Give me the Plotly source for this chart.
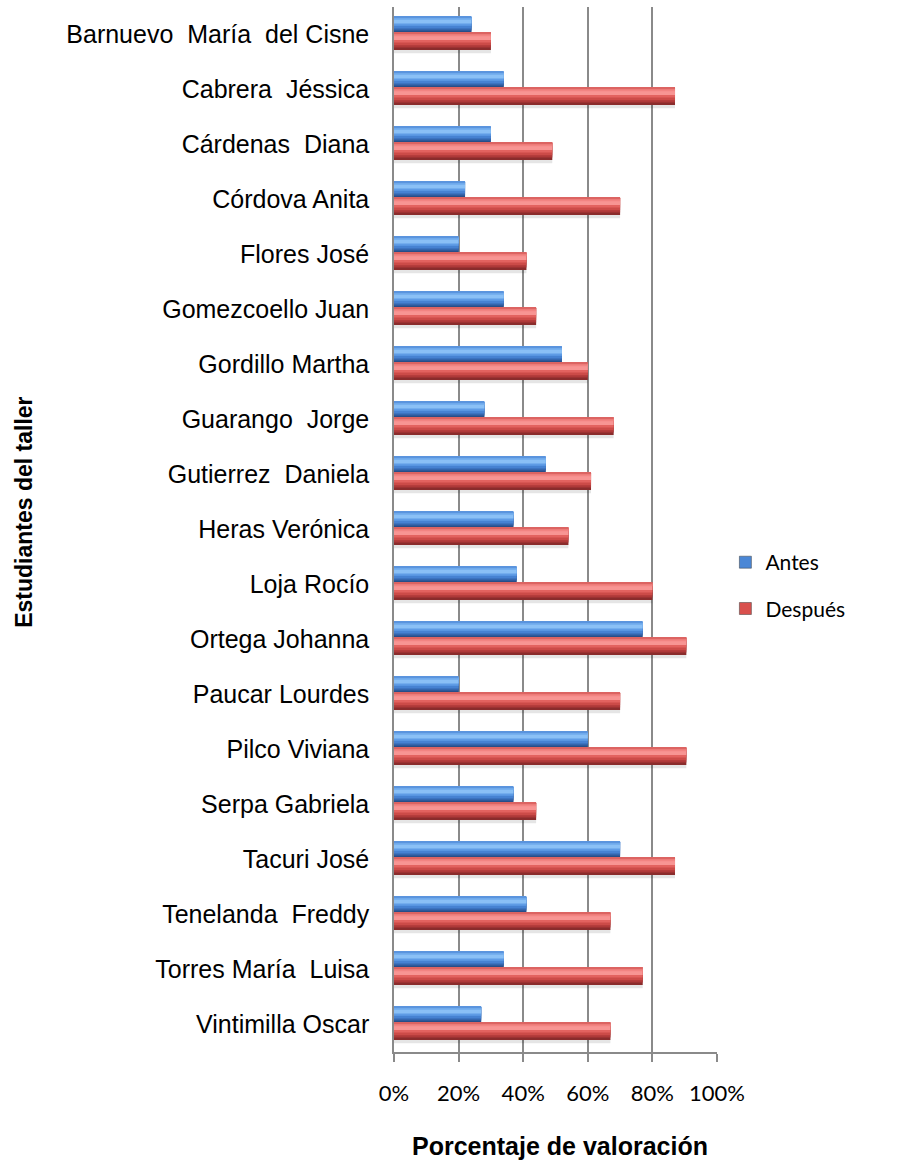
import plotly.graph_objects as go

# Workshop students and their assessment before / after (fraction of 100 %)
estudiantes = [
    "Barnuevo  María  del Cisne", "Cabrera  Jéssica", "Cárdenas  Diana", "Córdova Anita",
    "Flores José", "Gomezcoello Juan", "Gordillo Martha", "Guarango  Jorge",
    "Gutierrez  Daniela", "Heras Verónica", "Loja Rocío", "Ortega Johanna",
    "Paucar Lourdes", "Pilco Viviana", "Serpa Gabriela", "Tacuri José",
    "Tenelanda  Freddy", "Torres María  Luisa", "Vintimilla Oscar",
]
antes = [0.24, 0.34, 0.30, 0.22, 0.20, 0.34, 0.52, 0.28, 0.47, 0.37,
         0.38, 0.77, 0.20, 0.60, 0.37, 0.70, 0.41, 0.34, 0.27]
despues = [0.30, 0.87, 0.49, 0.70, 0.41, 0.44, 0.60, 0.68, 0.61, 0.54,
           0.80, 0.905, 0.70, 0.905, 0.44, 0.87, 0.67, 0.77, 0.67]
ticks_x = [0, 0.2, 0.4, 0.6, 0.8, 1.0]
tick_text = ["0%", "20%", "40%", "60%", "80%", "100%"]

fig = go.Figure()

# Glossy cylinder look: layers drawn from the bar top down to a fraction of
# its thickness, darkest (full) first, so lighter tones sit near the top edge.
series = [
    ("Antes", antes, -0.32, 0.29,
     [(0.0, 1.00, "#284E88"), (0.0, 0.86, "#3466AE"), (0.0, 0.72, "#4682D2"),
      (0.0, 0.56, "#5F9CE6"), (0.0, 0.42, "#8AC0F6"), (0.0, 0.20, "#76B0EF"),
      (0.0, 0.08, "#5A94DE")], "#4A87D6"),
    ("Después", despues, -0.03, 0.31,
     [(0.0, 1.00, "#8A2C2C"), (0.0, 0.86, "#AF3939"), (0.0, 0.72, "#CC4B48"),
      (0.0, 0.56, "#E3625F"), (0.0, 0.42, "#F89593"), (0.0, 0.20, "#F28482"),
      (0.0, 0.08, "#DC6462")], "#D9504D"),
]

for name, vals, off, width, layers, legend_col in series:
    # soft shadow just under the bar
    fig.add_trace(go.Bar(
        y=estudiantes, x=vals, orientation="h",
        offset=off + width * 0.35, width=width * 0.85,
        marker=dict(color="rgba(0,0,0,0.10)", line=dict(width=0)),
        showlegend=False, hoverinfo="skip", legendgroup=name,
    ))
    for f0, f1, col in layers:
        fig.add_trace(go.Bar(
            y=estudiantes, x=vals, orientation="h",
            offset=off + width * f0, width=width * (f1 - f0),
            marker=dict(color=col, line=dict(width=0)),
            name=name, legendgroup=name,
            showlegend=False, hoverinfo="x+y",
        ))
    # legend entry only
    fig.add_trace(go.Bar(
        y=[None], x=[None], orientation="h", name=name, legendgroup=name,
        marker=dict(color=legend_col, line=dict(color="#3a3a3a", width=0.5)),
        showlegend=True,
    ))

fig.update_layout(
    width=906, height=1160,
    margin=dict(l=394, r=189, t=7, b=108),
    paper_bgcolor="white", plot_bgcolor="white",
    barmode="overlay",
    showlegend=True,
    legend=dict(
        x=1.026, y=0.488, xanchor="left", yanchor="top",
        font=dict(family="Lato, Open Sans, sans-serif", size=21, color="black"),
        tracegroupgap=16, itemwidth=30, bgcolor="rgba(0,0,0,0)",
    ),
    font=dict(family="Liberation Sans, Arial, sans-serif", color="black"),
)

fig.update_xaxes(
    range=[0, 1.0], tickvals=ticks_x, ticktext=tick_text,
    showgrid=True, gridcolor="#8a8a8a", gridwidth=1.5,
    showline=True, linecolor="#8a8a8a", linewidth=1.5,
    ticks="outside", ticklen=8, tickwidth=1.5, tickcolor="#8a8a8a",
    tickfont=dict(family="Lato, Open Sans, sans-serif", size=22, color="black"),
    ticklabelstandoff=13, zeroline=False, automargin=False,
)
fig.update_yaxes(
    autorange="reversed", categoryorder="array", categoryarray=estudiantes,
    showgrid=False, showline=True, linecolor="#8a8a8a", linewidth=1.5,
    ticks="", tickfont=dict(family="Liberation Sans, Arial, sans-serif", size=25, color="black"),
    ticklabelstandoff=18, automargin=False,
)

# Axis titles
fig.add_annotation(
    text="<b>Porcentaje de valoración</b>", xref="paper", yref="paper",
    x=0.514, y=-0.09, xanchor="center", yanchor="middle", showarrow=False,
    font=dict(family="Liberation Sans, Arial, sans-serif", size=25, color="black"),
)
fig.add_annotation(
    text="<b>Estudiantes del taller</b>", xref="paper", yref="paper",
    x=-1.1455, y=0.516, xanchor="center", yanchor="middle", showarrow=False,
    textangle=-90,
    font=dict(family="Liberation Sans, Arial, sans-serif", size=23, color="black"),
)

fig.write_html("out.html")
